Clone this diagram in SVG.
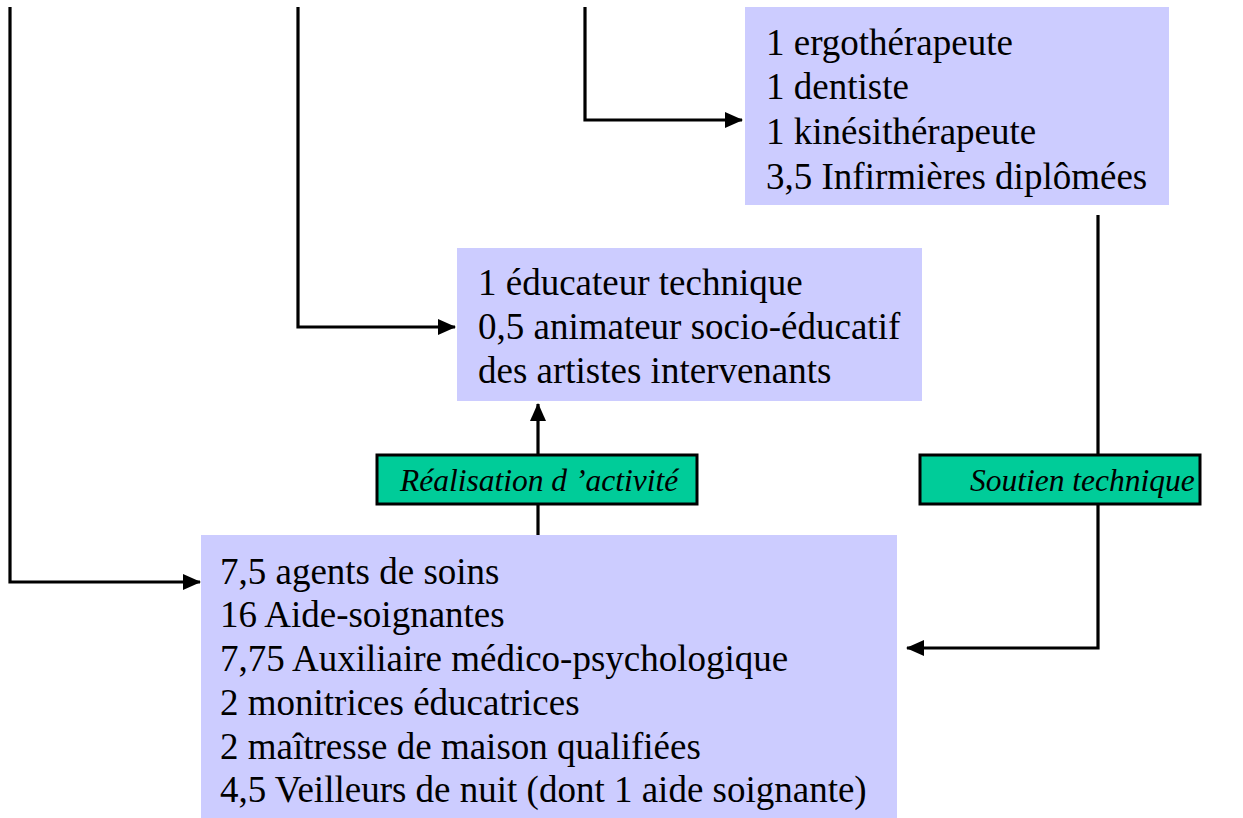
<svg xmlns="http://www.w3.org/2000/svg" width="1243" height="818" viewBox="0 0 1243 818">
<defs>
<marker id="ah" markerWidth="18" markerHeight="16" refX="17" refY="8" orient="auto" markerUnits="userSpaceOnUse"><path d="M0,0 L18,8 L0,16 Z" fill="#000"/></marker>
<style>
.box{fill:#CCCCFF;}
.t{font-family:'Liberation Serif','Times New Roman',serif;font-size:37px;fill:#000;}
.lab{fill:#00CC99;stroke:#000;stroke-width:3;}
.lt{font-family:'Liberation Serif','Times New Roman',serif;font-size:31.5px;font-style:italic;fill:#000;}
.c{fill:none;stroke:#000;stroke-width:3.2;}
</style>
</defs>
<rect width="1243" height="818" fill="#fff"/>
<g id="connectors">
<path class="c" d="M10,7 V582 H200" marker-end="url(#ah)"/>
<path class="c" d="M298,7 V327 H455" marker-end="url(#ah)"/>
<path class="c" d="M585,7 V120 H742" marker-end="url(#ah)"/>
<path class="c" d="M538,535 V404" marker-end="url(#ah)"/>
<path class="c" d="M1098,215 V648 H907" marker-end="url(#ah)"/>
</g>
<g id="node-top">
<rect class="box" x="745" y="7" width="424" height="198"/>
<text class="t" x="766" y="55">1 ergothérapeute</text>
<text class="t" x="766" y="99">1 dentiste</text>
<text class="t" x="766" y="144">1 kinésithérapeute</text>
<text class="t" x="766" y="189">3,5 Infirmières diplômées</text>
</g>
<g id="node-middle">
<rect class="box" x="457" y="248" width="465" height="153"/>
<text class="t" x="478" y="295">1 éducateur technique</text>
<text class="t" x="478" y="339">0,5 animateur socio-éducatif</text>
<text class="t" x="478" y="383">des artistes intervenants</text>
</g>
<g id="label-realisation">
<rect class="lab" x="377" y="455" width="320" height="49"/>
<text class="lt" x="400" y="491">Réalisation d ’activité</text>
</g>
<g id="label-soutien">
<rect class="lab" x="920" y="455" width="280" height="49"/>
<text class="lt" x="970" y="491">Soutien technique</text>
</g>
<g id="node-bottom">
<rect class="box" x="201" y="535" width="696" height="283"/>
<text class="t" x="220" y="584">7,5 agents de soins</text>
<text class="t" x="220" y="627">16 Aide-soignantes</text>
<text class="t" x="220" y="671">7,75 Auxiliaire médico-psychologique</text>
<text class="t" x="220" y="715">2 monitrices éducatrices</text>
<text class="t" x="220" y="759">2 maîtresse de maison qualifiées</text>
<text class="t" x="220" y="802">4,5 Veilleurs de nuit (dont 1 aide soignante)</text>
</g>
</svg>
